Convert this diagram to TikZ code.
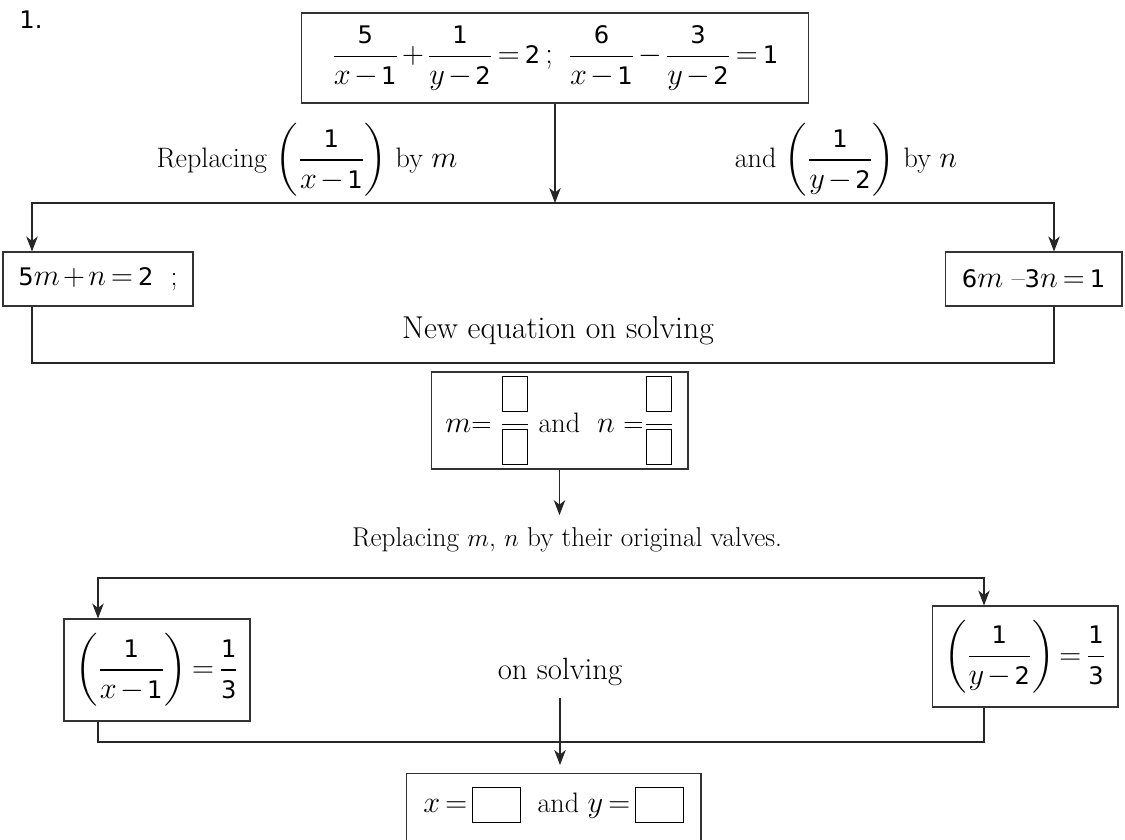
\documentclass[tikz,border=0pt]{standalone}
\usepackage{amsmath}
\usepackage{fontspec}
\usetikzlibrary{arrows.meta}
\newfontfamily\dvs[Scale=0.86]{DejaVu Sans}
\newcommand\dg[1]{\mbox{\dvs #1}}
\newcommand\myblank[2]{{\setlength\fboxsep{0pt}\setlength\fboxrule{0.5pt}\fbox{\rule{0pt}{#2}\rule{#1}{0pt}}}}
\newcommand\tightmath{\medmuskip=2mu plus 1mu\thickmuskip=3mu plus 1mu}
\tikzset{
  box/.style={draw=black!80, line width=0.6pt, inner sep=0pt},
  arr/.style={draw=black!85, line width=0.6pt, -{Stealth[length=8.5pt,width=6.5pt,inset=2.5pt]}},
  ln/.style={draw=black!85, line width=0.6pt},
  lbl/.style={inner sep=0pt}
}
\begin{document}
\begin{tikzpicture}[x=0.02cm, y=-0.02cm, font=\fontsize{16}{19}\selectfont\tightmath]
\clip (0,0) rectangle (1125,839);

\node[lbl] (num) at (31,20) {\dvs 1.};

\node[box, minimum width=10.14cm, minimum height=1.8cm] (top) at (555,58)
  {$\displaystyle \frac{\dg5}{x-\dg1}+\frac{\dg1}{y-\dg2}=\dg2\;;\;\;\frac{\dg6}{x-\dg1}-\frac{\dg3}{y-\dg2}=\dg1$};

\node[lbl] (lab1) at (307,160) {Replacing $\left(\dfrac{\dg1}{x-\dg1}\right)$ by $m$};
\node[lbl] (lab2) at (846,160) {and $\left(\dfrac{\dg1}{y-\dg2}\right)$ by $n$};

\node[box, minimum width=3.8cm, minimum height=1.08cm] (lbox) at (98,279) {$\dg5m+n=\dg2$~~;};
\node[box, minimum width=3.54cm, minimum height=1.08cm] (rbox) at (1033.5,279) {$\dg6m$ –$\dg3n=\dg1$};

\node[lbl, font=\fontsize{18}{21}\selectfont] (neweq) at (558,331) {New equation on solving};

\node[box, minimum width=5.14cm, minimum height=1.94cm] (mbox) at (559.5,420.5)
  {$m$= $\dfrac{\myblank{13.7pt}{19.5pt}}{\myblank{13.7pt}{19.5pt}}$ and~ $n$ =$\dfrac{\myblank{13.7pt}{19.5pt}}{\myblank{13.7pt}{19.5pt}}$};

\node[inner xsep=0pt, inner ysep=7pt, font=\fontsize{15.5}{18}\selectfont] (rep2) at (567,540) {Replacing $m$, $n$ by their original valves.};

\node[box, minimum width=3.72cm, minimum height=2.04cm] (lx) at (157,670)
  {$\left(\dfrac{\dg1}{x-\dg1}\right)=\dfrac{\dg1}{\dg3}$};
\node[box, minimum width=3.72cm, minimum height=2.02cm] (ry) at (1025,656.5)
  {$\left(\dfrac{\dg1}{y-\dg2}\right)=\dfrac{\dg1}{\dg3}$};

\node[inner xsep=0pt, inner ysep=7pt, font=\fontsize{17.5}{20}\selectfont] (onsolv) at (560,672) {on solving};

\node[box, anchor=north, minimum width=5.9cm, text height=0.78cm, text depth=2cm] (fin) at (553.5,773)
  {$x=\vcenter{\hbox{\myblank{26.5pt}{19.5pt}}}$ \ and $y=\vcenter{\hbox{\myblank{26.5pt}{19.5pt}}}$};

% connectors
\coordinate (h1M) at (555,203);
\coordinate (h1L) at (32,203);
\coordinate (h1R) at (1054,203);
\coordinate (h2L) at (32,363);
\coordinate (h2R) at (1054,363);
\coordinate (h3M) at (560,578);
\coordinate (h3L) at (98,578);
\coordinate (h3R) at (984,578);
\coordinate (h4L) at (98,742);
\coordinate (h4R) at (984,742);

\draw[arr] (top) -- (h1M);
\draw[arr] (h1M) -| (h1L |- lbox.north);
\draw[arr] (h1M) -| (h1R |- rbox.north);
\draw[ln] (h1L |- lbox.south) -- (h2L) -- (h2R) -- (h1R |- rbox.south);

\draw[arr] (mbox) -- (mbox.south |- rep2.north);

\draw[arr] (h3M) -| (h3L |- lx.north);
\draw[arr] (h3M) -| (h3R |- ry.north);
\draw[ln] (h3L |- lx.south) -- (h4L) -- (h4R) -- (h3R |- ry.south);

\draw[arr, shorten >=0.16cm] (onsolv) -- (onsolv.south |- fin.north);
\end{tikzpicture}
\end{document}
